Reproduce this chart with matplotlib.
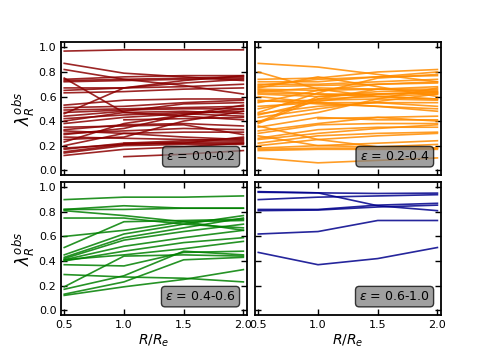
import matplotlib
matplotlib.use('Agg')
import matplotlib.pyplot as plt
import numpy as np

nan = np.nan
radii = [0.5, 1.0, 1.5, 2.0]

# lambda_R profiles per ellipticity bin (values at R/Re = 0.5, 1.0, 1.5, 2.0)
lam_e00 = [
    [0.97, 0.98, 0.98, 0.98], [0.87, 0.79, 0.76, 0.73], [0.82, 0.74, 0.69, 0.62],
    [0.75, 0.47, 0.44, 0.41], [0.74, 0.76, 0.77, 0.77], [0.73, 0.74, 0.75, 0.76],
    [0.72, 0.73, 0.74, 0.75], [0.67, 0.67, 0.68, 0.70], [0.65, 0.67, 0.71, 0.74],
    [0.53, 0.57, 0.58, 0.58], [0.51, 0.52, 0.55, 0.57], [0.49, 0.50, 0.51, 0.52],
    [0.47, 0.49, 0.50, 0.50], [0.46, 0.67, 0.73, 0.77], [0.44, 0.48, 0.54, 0.55],
    [0.42, 0.45, 0.47, 0.48], [0.40, 0.47, 0.48, 0.46], [0.38, 0.43, 0.46, 0.44],
    [0.33, 0.37, 0.38, 0.36], [0.32, 0.30, 0.27, 0.25], [0.30, 0.32, 0.34, 0.33],
    [0.29, 0.34, 0.45, 0.53], [0.27, 0.26, 0.25, 0.24], [0.25, 0.27, 0.40, 0.48],
    [0.23, 0.38, 0.45, 0.50], [0.20, 0.30, 0.31, 0.31], [0.18, 0.21, 0.23, 0.23],
    [0.17, 0.22, 0.22, 0.22], [0.15, 0.21, 0.22, 0.27], [0.14, 0.20, 0.21, 0.21],
    [0.12, 0.17, 0.19, 0.22], [nan, 0.11, 0.13, 0.16], [nan, 0.41, 0.42, 0.43],
    [nan, 0.22, 0.24, 0.26], [0.63, 0.64, 0.66, 0.67], [0.35, 0.36, 0.37, 0.29],
]
lam_e02 = [
    [0.87, 0.84, 0.78, 0.72], [0.80, 0.66, 0.60, 0.58], [0.74, 0.75, 0.80, 0.82],
    [0.72, 0.72, 0.76, 0.80], [0.70, 0.70, 0.72, 0.74], [0.68, 0.69, 0.70, 0.71],
    [0.67, 0.76, 0.68, 0.60], [0.66, 0.65, 0.66, 0.66], [0.65, 0.62, 0.62, 0.63],
    [0.64, 0.67, 0.66, 0.64], [0.63, 0.62, 0.60, 0.58], [0.62, 0.60, 0.64, 0.65],
    [0.60, 0.55, 0.52, 0.50], [0.56, 0.57, 0.58, 0.57], [0.52, 0.55, 0.55, 0.52],
    [0.50, 0.58, 0.60, 0.62], [0.46, 0.52, 0.55, 0.55], [0.45, 0.56, 0.62, 0.64],
    [0.43, 0.50, 0.56, 0.62], [0.40, 0.47, 0.58, 0.67], [0.38, 0.58, 0.66, 0.68],
    [0.35, 0.43, 0.41, 0.41], [0.32, 0.38, 0.43, 0.40], [0.30, 0.37, 0.38, 0.38],
    [0.28, 0.20, 0.19, 0.21], [0.25, 0.30, 0.34, 0.37], [0.22, 0.28, 0.30, 0.31],
    [0.20, 0.25, 0.28, 0.30], [0.18, 0.20, 0.22, 0.24], [0.17, 0.18, 0.18, 0.18],
    [0.16, 0.17, 0.17, 0.17], [0.10, 0.06, 0.08, 0.10], [nan, 0.42, 0.43, 0.44],
    [0.39, 0.60, 0.62, 0.63], [0.36, 0.25, 0.19, 0.18], [0.55, 0.65, 0.70, 0.72],
    [0.47, 0.63, 0.75, 0.78], [0.69, 0.74, 0.76, 0.77], [0.26, 0.33, 0.35, 0.35],
    [0.57, 0.54, 0.52, 0.48],
]
lam_e04 = [
    [0.90, 0.92, 0.92, 0.93], [0.82, 0.85, 0.83, 0.83], [0.82, 0.82, 0.83, 0.83],
    [0.81, 0.77, 0.72, 0.65], [0.75, 0.75, 0.70, 0.67], [0.60, 0.65, 0.72, 0.73],
    [0.51, 0.72, 0.73, 0.74], [0.45, 0.62, 0.70, 0.77], [0.43, 0.59, 0.67, 0.75],
    [0.42, 0.57, 0.64, 0.70], [0.41, 0.52, 0.59, 0.65], [0.40, 0.48, 0.55, 0.59],
    [0.41, 0.45, 0.50, 0.56], [0.37, 0.36, 0.47, 0.48], [0.19, 0.44, 0.45, 0.44],
    [0.17, 0.28, 0.48, 0.45], [0.29, 0.27, 0.26, 0.23], [0.13, 0.23, 0.41, 0.43],
    [0.12, 0.19, 0.25, 0.33],
]
lam_e06 = [
    [0.965, 0.955, 0.95, 0.953], [0.96, 0.955, 0.85, 0.81], [0.90, 0.92, 0.93, 0.94],
    [0.82, 0.82, 0.855, 0.87], [0.81, 0.815, 0.84, 0.855], [0.62, 0.64, 0.73, 0.73],
    [0.47, 0.37, 0.42, 0.51],
]

groups = [lam_e00, lam_e02, lam_e04, lam_e06]
labels = ['0.0-0.2', '0.2-0.4', '0.4-0.6', '0.6-1.0']
colors = ['darkred', 'darkorange', 'green', 'darkblue']

fig, axes = plt.subplots(2, 2, figsize=(4.9, 3.54), dpi=100)
plt.subplots_adjust(left=0.125, right=0.9, bottom=0.11, top=0.88, wspace=0.045, hspace=0.055)

for i, ax in enumerate(axes.flat):
    for prof in groups[i]:
        ax.plot(radii, prof, color=colors[i], lw=1.2, alpha=0.85)
    ax.set_xlim(0.475, 2.03)
    ax.set_ylim(-0.04, 1.04)
    ax.set_xticks([0.5, 1.0, 1.5, 2.0])
    ax.set_yticks([0.0, 0.2, 0.4, 0.6, 0.8, 1.0])
    ax.tick_params(direction='in', top=True, right=True, labelsize=8, length=4, width=1)
    for s in ax.spines.values():
        s.set_linewidth(1.3)
    ax.text(0.94, 0.09, r'$\epsilon$ = ' + labels[i], transform=ax.transAxes,
            ha='right', va='bottom', fontsize=9,
            bbox=dict(boxstyle='round,pad=0.3', facecolor='gray', alpha=0.75, edgecolor='black'))
    if i % 2 == 0:
        ax.set_ylabel(r'$\lambda_R^{obs}$', fontsize=12, labelpad=1)
    else:
        ax.set_yticklabels([])
    if i < 2:
        ax.set_xticklabels([])
    else:
        ax.set_xlabel(r'$R/R_e$', fontsize=10, labelpad=2)

plt.savefig('out.png')
